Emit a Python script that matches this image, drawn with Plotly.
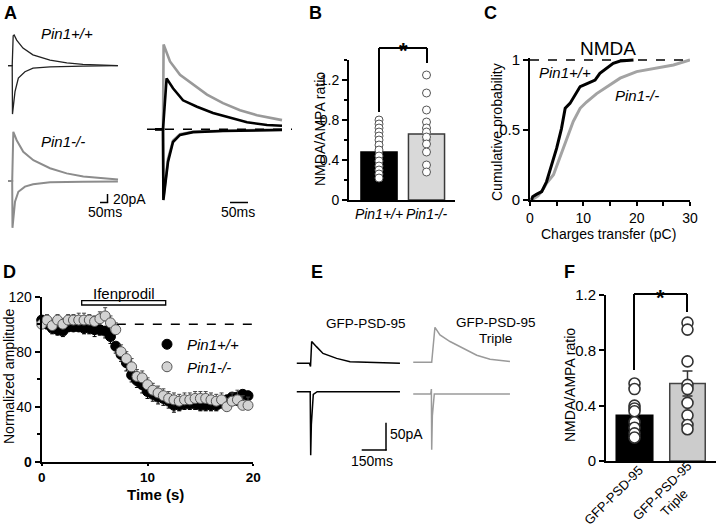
import plotly.graph_objects as go

W, H = 720, 528
FONT = "Liberation Sans, Arial, Helvetica, sans-serif"

# ---------------- data ----------------
# Panel A (left): example traces, time (ms) / current (pA)
A_wt_nmda_t = [-30, 0, 7, 14, 32, 77, 148, 270, 390, 505, 755]
A_wt_nmda_i = [0, 0, 75, 77, 64, 44, 27, 14, 7, 3.5, 0]
A_wt_ampa_t = [-30, 0, 2, 20, 44, 91, 149, 270, 505, 755]
A_wt_ampa_i = [0, 0, -121, -65, -31, -15, -6, -3, -1, 0]
A_ko_nmda_t = [-30, 0, 8, 32, 79, 151, 270, 389, 508, 627, 756]
A_ko_nmda_i = [0, 0, 123, 102, 73, 52, 32, 19, 11, 7, 4]
A_ko_ampa_t = [-30, 0, 2, 20, 44, 91, 149, 270, 505, 755]
A_ko_ampa_i = [0, 0, -117, -52, -27, -14, -8, -3, -2, -1]

# Panel A (right): normalized superimposed traces
AR_ko_nmda_t = [-20, 0, 1.5, 17.5, 42.5, 75, 110, 150, 192.5, 235, 297.5]
AR_ko_nmda_v = [0, 0, 1.20, 0.96, 0.77, 0.63, 0.49, 0.37, 0.27, 0.20, 0.13]
AR_wt_nmda_t = [-20, 0, 9, 25, 50, 85, 125, 167.5, 210, 260, 297.5]
AR_wt_nmda_v = [0, 0, 0.72, 0.58, 0.41, 0.32, 0.23, 0.16, 0.10, 0.06, 0.05]
AR_ampa_t = [-20, 0, 1, 12.5, 25, 42.5, 75, 150, 297.5]
AR_wt_ampa_v = [0, 0, -1.0, -0.46, -0.18, -0.08, -0.04, -0.025, -0.01]
AR_ko_ampa_v = [0, 0, -0.97, -0.42, -0.16, -0.07, -0.035, -0.02, -0.005]

# Panel B
B_cats = ["Pin1+/+", "Pin1-/-"]
B_means = [0.48, 0.66]
B_sem = [0.04, 0.06]
B_wt_pts = [0.80, 0.76, 0.72, 0.68, 0.64, 0.60, 0.55, 0.50, 0.44, 0.39, 0.34, 0.30, 0.26, 0.22]
B_ko_pts = [1.25, 1.07, 0.90, 0.78, 0.72, 0.68, 0.63, 0.56, 0.48, 0.35, 0.28]

# Panel C: cumulative distributions of NMDA charge transfer
C_wt_x = [0.3, 0.5, 1.2, 2.2, 3.1, 4.1, 5.0, 5.9, 6.6, 7.5, 8.4, 9.4, 10.6, 12.2, 13.1, 14.4, 15.6, 16.9, 19.4]
C_wt_y = [0.0, 0.024, 0.04, 0.06, 0.13, 0.25, 0.37, 0.51, 0.655, 0.69, 0.75, 0.81, 0.83, 0.857, 0.905, 0.94, 0.976, 0.993, 1.0]
C_ko_x = [0.3, 1.5, 2.5, 3.1, 4.4, 5.6, 6.9, 8.1, 9.4, 10.6, 12.5, 15.0, 16.9, 20.0, 22.0, 24.4, 26.9, 30.0]
C_ko_y = [0.0, 0.03, 0.08, 0.12, 0.18, 0.30, 0.44, 0.56, 0.655, 0.70, 0.76, 0.82, 0.87, 0.917, 0.93, 0.95, 0.964, 1.0]

# Panel D: ifenprodil time course
D_t = [0.0, 0.5, 1.0, 1.5, 2.0, 2.5, 3.0, 3.5, 4.0, 4.5, 5.0, 5.5, 6.0, 6.5, 7.0, 7.5, 8.0, 8.5, 9.0, 9.5,
       10.0, 10.5, 11.0, 11.5, 12.0, 12.5, 13.0, 13.5, 14.0, 14.5, 15.0, 15.5, 16.0, 16.5, 17.0, 17.5, 18.0, 18.5, 19.0, 19.5]
D_wt = [103, 100, 97, 96, 95, 98, 98, 98, 97, 97, 96, 96, 95, 91, 84, 78, 72, 63, 59, 56,
        51, 49, 47, 46, 44, 41, 41, 42, 42, 42, 41, 41, 41, 41, 43, 45, 47, 47, 49, 48]
D_wt_err = [3, 3, 4, 4, 4, 3, 3, 3, 4, 4, 5, 4, 5, 5, 5, 5, 6, 5, 5, 6,
            5, 5, 5, 5, 5, 5, 4, 4, 4, 4, 4, 4, 4, 4, 4, 5, 5, 6, 6, 6]
D_ko = [100, 103, 99, 103, 100, 103, 103, 103, 103, 103, 102, 104, 106, 101, 96, 80, 75, 69, 62, 61,
        56, 52, 50, 48, 46, 45, 44, 45, 45, 46, 46, 46, 45, 44, 45, 40, 44, 45, 41, 41]
D_ko_err = [4, 4, 4, 4, 4, 4, 4, 5, 5, 4, 4, 5, 6, 5, 5, 5, 5, 6, 5, 5,
            5, 5, 5, 5, 5, 5, 5, 5, 5, 5, 5, 5, 5, 5, 5, 6, 6, 7, 7, 6]
D_names = ["Pin1+/+", "Pin1-/-"]

# Panel E: example traces, time (ms) / current (pA)
E_ctl_nmda_t = [-86, -8, -1, 6, 37, 76, 160, 243, 551]
E_ctl_nmda_i = [0, 0, -6, 40, 30, 18, 9, 3, 0]
E_ctl_ampa_t = [-86, -3, 0, 4, 16, 40, 551]
E_ctl_ampa_i = [0, 0, -116, -60, -5, 0, 0]
E_tri_nmda_t = [-114, -3, 0, 20, 51, 113, 195, 278, 360, 483]
E_tri_nmda_i = [0, 0, 0, 64, 50, 38, 26, 13, 5.5, 1.5]
E_tri_ampa_t = [-114, -6, -2, 0, 4, 16, 483]
E_tri_ampa_i = [0, 0, 9, -102, -40, 0, 0]

# Panel F
F_cats = ["GFP-PSD-95", "GFP-PSD-95 Triple"]
F_ticktext = ["GFP-PSD-95", "GFP-PSD-95<br>Triple"]
F_means = [0.33, 0.56]
F_sem = [0.03, 0.09]
F_ctl_pts = [0.56, 0.52, 0.40, 0.38, 0.36, 0.28, 0.24, 0.20, 0.17]
F_tri_pts = [1.0, 0.95, 0.72, 0.55, 0.52, 0.42, 0.33, 0.26, 0.23]

# ---------------- helpers ----------------
fig = go.Figure()
axes = {}


def ids(n):
    return ("x" if n == 1 else f"x{n}", "y" if n == 1 else f"y{n}")


def add_axes(n, xpx, xr, ypx, yr, xo=None, yo=None, visible=False):
    xa, ya = ids(n)
    xk = "xaxis" if n == 1 else f"xaxis{n}"
    yk = "yaxis" if n == 1 else f"yaxis{n}"
    x = dict(domain=[xpx[0] / W, xpx[1] / W], range=xr, anchor=ya, visible=visible,
             showgrid=False, zeroline=False, fixedrange=True, automargin=False)
    y = dict(domain=[1 - ypx[1] / H, 1 - ypx[0] / H], range=yr, anchor=xa, visible=visible,
             showgrid=False, zeroline=False, fixedrange=True, automargin=False)
    if xo:
        x.update(xo)
    if yo:
        y.update(yo)
    axes[xk] = x
    axes[yk] = y


def line(n, x, y, color, width):
    xa, ya = ids(n)
    fig.add_trace(go.Scatter(x=x, y=y, mode="lines", line=dict(color=color, width=width),
                             xaxis=xa, yaxis=ya, showlegend=False, hoverinfo="skip"))


annotations = []
shapes = []


def text(s, px, py, size=14, angle=0, xanchor="center", yanchor="middle"):
    annotations.append(dict(text=s, x=px / W, y=1 - py / H, xref="paper", yref="paper",
                            showarrow=False, textangle=angle, xanchor=xanchor, yanchor=yanchor,
                            font=dict(size=size, family=FONT, color="black")))


def pline(x0, y0, x1, y1, width=1.5, color="black", dash=None):
    d = dict(type="line", xref="paper", yref="paper", x0=x0 / W, y0=1 - y0 / H,
             x1=x1 / W, y1=1 - y1 / H, line=dict(color=color, width=width))
    if dash:
        d["line"]["dash"] = dash
    shapes.append(d)


AXV = dict(visible=True, showline=True, linecolor="black", linewidth=2, ticks="outside",
           tickcolor="black", tickwidth=1.5, ticklen=5,
           tickfont=dict(size=14, color="black", family=FONT))

GREY = "#8c8c8c"

# ---------------- Panel A ----------------
tA = lambda px: (px - 12.2) / 0.14
yA1 = lambda py: (65.7 - py) / 0.4
yA2 = lambda py: (181 - py) / 0.4
add_axes(1, (6, 122), [tA(6), tA(122)], (28, 122), [yA1(122), yA1(28)])
add_axes(2, (6, 122), [tA(6), tA(122)], (124, 235), [yA2(235), yA2(124)])
line(1, A_wt_ampa_t, A_wt_ampa_i, "#222", 1.3)
line(1, A_wt_nmda_t, A_wt_nmda_i, "#222", 1.3)
line(2, A_ko_ampa_t, A_ko_ampa_i, GREY, 2)
line(2, A_ko_nmda_t, A_ko_nmda_i, GREY, 2)

tR = lambda px: (px - 163) / 0.4
vR = lambda py: (129.3 - py) / 70.7
add_axes(3, (145, 295), [tR(145), tR(295)], (38, 205), [vR(205), vR(38)])
line(3, AR_ampa_t, AR_ko_ampa_v, "#999999", 2.6)
line(3, AR_ko_nmda_t, AR_ko_nmda_v, "#999999", 2.6)
line(3, AR_ampa_t, AR_wt_ampa_v, "black", 2.6)
line(3, AR_wt_nmda_t, AR_wt_nmda_v, "black", 2.6)
shapes.append(dict(type="line", xref="x3", yref="y3", x0=tR(147), x1=tR(292), y0=0, y1=0,
                   line=dict(color="black", width=1.5, dash="dash")))

text("<i>Pin1+/+</i>", 67, 33, 15)
text("<i>Pin1-/-</i>", 63, 141, 15)
pline(107.5, 194, 107.5, 202.5)
pline(100, 202.5, 108.2, 202.5)
text("20pA", 111, 198.5, 14, xanchor="left")
text("50ms", 104.5, 212, 14)
pline(230, 202.5, 248, 202.5)
text("50ms", 237.5, 212, 14)

# ---------------- Panel B ----------------
add_axes(4, (349, 455), [-0.632, 1.6], (60, 200), [0, 1.4],
         xo=dict(AXV, type="category", ticks="", tickvals=B_cats,
                 ticktext=[f"<i>{c}</i>" for c in B_cats]),
         yo=dict(AXV, tickvals=[0, 0.4, 0.8, 1.2], ticktext=["0", "0.4", "0.8", "1.2"],
                 minor=dict(tickvals=[0.2, 0.6, 1.0, 1.4], ticks="outside", ticklen=3,
                            tickcolor="black", tickwidth=1.5)))
fig.add_trace(go.Bar(x=[B_cats[0]], y=[B_means[0]], width=0.76, xaxis="x4", yaxis="y4",
                     marker=dict(color="black", line=dict(color="black", width=1.5)),
                     error_y=dict(type="data", array=[B_sem[0]], color="#888", thickness=1.5, width=4),
                     showlegend=False, hoverinfo="skip"))
fig.add_trace(go.Bar(x=[B_cats[1]], y=[B_means[1]], width=0.76, xaxis="x4", yaxis="y4",
                     marker=dict(color="#d9d9d9", line=dict(color="#3a3a3a", width=1.5)),
                     error_y=dict(type="data", array=[B_sem[1]], color="#444", thickness=1.5, width=4),
                     showlegend=False, hoverinfo="skip"))
for cat, pts in zip(B_cats, [B_wt_pts, B_ko_pts]):
    fig.add_trace(go.Scatter(x=[cat] * len(pts), y=pts, mode="markers", xaxis="x4", yaxis="y4",
                             marker=dict(color="white", size=8, line=dict(color="#555", width=1)),
                             cliponaxis=False, showlegend=False, hoverinfo="skip"))
pline(379, 112, 379, 48, 2)
pline(379, 48, 427, 48, 2)
pline(427, 48, 427, 63, 2)
text("<b>*</b>", 403, 50, 22)
text("NMDA/AMPA ratio", 320, 129, 14, angle=-90)

# ---------------- Panel C ----------------
add_axes(5, (530, 690), [0, 30], (58, 200), [0, 1.0143],
         xo=dict(AXV, tickvals=[0, 10, 20, 30], ticklen=4,
                 minor=dict(tickvals=[5, 15, 25], ticks="outside", ticklen=4,
                            tickcolor="black", tickwidth=1.5)),
         yo=dict(AXV, tickvals=[0, 0.5, 1], ticktext=["0", "0.5", "1"],
                 tickfont=dict(size=15, family=FONT, color="black")))
shapes.append(dict(type="line", xref="x5", yref="y5", x0=0, x1=30, y0=1, y1=1,
                   line=dict(color="black", width=1.5, dash="dash")))
line(5, C_ko_x, C_ko_y, "#a3a3a3", 3)
line(5, C_wt_x, C_wt_y, "black", 3)
text("NMDA", 608, 48, 19)
text("<i>Pin1+/+</i>", 565, 72, 15)
text("<i>Pin1-/-</i>", 637, 95, 15)
text("Cumulative probability", 497, 132, 14, angle=-90)
text("Charges transfer (pC)", 608, 234, 14)

# ---------------- Panel D ----------------
add_axes(6, (41.7, 253.3), [0, 20], (296.7, 461.7), [0, 120],
         xo=dict(AXV, tickvals=[0, 10, 20], ticktext=["<b>0</b>", "<b>10</b>", "<b>20</b>"],
                 ticklen=2, tickfont=dict(size=13.5, family=FONT, color="black")),
         yo=dict(AXV, tickvals=[0, 40, 80, 120], ticktext=["<b>0</b>", "40", "80", "120"],
                 minor=dict(tickvals=[20, 60, 100], ticks="outside", ticklen=3,
                            tickcolor="black", tickwidth=1.5)))
shapes.append(dict(type="line", xref="x6", yref="y6", x0=7.1, x1=20, y0=100, y1=100,
                   line=dict(color="black", width=1.5, dash="dash")))
fig.add_trace(go.Scatter(x=D_t, y=D_wt, mode="markers", name=f"<i>{D_names[0]}</i>",
                         xaxis="x6", yaxis="y6", cliponaxis=False,
                         marker=dict(color="black", size=10, line=dict(color="black", width=1)),
                         error_y=dict(type="data", symmetric=False, array=[0] * len(D_t),
                                      arrayminus=D_wt_err, color="black", thickness=1, width=2),
                         hoverinfo="skip"))
fig.add_trace(go.Scatter(x=D_t, y=D_ko, mode="markers", name=f"<i>{D_names[1]}</i>",
                         xaxis="x6", yaxis="y6", cliponaxis=False,
                         marker=dict(color="#d3d3d3", size=10, line=dict(color="#555", width=1)),
                         error_y=dict(type="data", symmetric=False, array=D_ko_err,
                                      arrayminus=[0] * len(D_t), color="#444", thickness=1, width=2),
                         hoverinfo="skip"))
shapes.append(dict(type="rect", xref="paper", yref="paper", x0=81.7 / W, x1=165.7 / W,
                   y0=1 - 305 / H, y1=1 - 300.7 / H, line=dict(color="black", width=1.3),
                   fillcolor="white"))
text("Ifenprodil", 123.5, 293, 15)
text("Normalized amplitude", 9, 376, 14, angle=-90)
text("<b>Time (s)</b>", 155, 494, 15)

# ---------------- Panel E ----------------
tE1 = lambda px: (px - 310.7) / 0.162
yE1 = lambda py: (363.3 - py) / 0.547
yE2 = lambda py: (391.7 - py) / 0.547
tE2 = lambda px: (px - 431.7) / 0.162
yE3 = lambda py: (362.3 - py) / 0.547
yE4 = lambda py: (394 - py) / 0.547
add_axes(7, (294, 404), [tE1(294), tE1(404)], (325, 372), [yE1(372), yE1(325)])
add_axes(8, (294, 404), [tE1(294), tE1(404)], (378, 462), [yE2(462), yE2(378)])
add_axes(9, (410, 515), [tE2(410), tE2(515)], (320, 372), [yE3(372), yE3(320)])
add_axes(10, (410, 515), [tE2(410), tE2(515)], (378, 462), [yE4(462), yE4(378)])
line(7, E_ctl_nmda_t, E_ctl_nmda_i, "black", 1.5)
line(8, E_ctl_ampa_t, E_ctl_ampa_i, "black", 1.5)
line(9, E_tri_nmda_t, E_tri_nmda_i, "#9a9a9a", 1.5)
line(10, E_tri_ampa_t, E_tri_ampa_i, "#9a9a9a", 1.5)
text("GFP-PSD-95", 366, 323, 13.5)
text("GFP-PSD-95", 496, 322, 13.5)
text("Triple", 495, 338, 13.5)
pline(386, 422.7, 386, 450.5)
pline(361.7, 450, 386.7, 450)
text("50pA", 388, 434, 14, xanchor="left")
text("150ms", 372, 461, 14)

# ---------------- Panel F ----------------
add_axes(11, (606, 716), [-0.538, 1.538], (295, 461), [0, 1.2],
         xo=dict(AXV, type="category", ticks="", tickvals=F_cats, ticktext=F_ticktext,
                 showticklabels=False),
         yo=dict(AXV, tickvals=[0, 0.4, 0.8, 1.2], ticktext=["0", "0.4", "0.8", "1.2"],
                 tickfont=dict(size=15, family=FONT, color="black")))
fig.add_trace(go.Bar(x=[F_cats[0]], y=[F_means[0]], width=0.69, xaxis="x11", yaxis="y11",
                     marker=dict(color="black", line=dict(color="black", width=1.5)),
                     error_y=dict(type="data", array=[F_sem[0]], color="#888", thickness=1.5, width=5),
                     showlegend=False, hoverinfo="skip"))
fig.add_trace(go.Bar(x=[F_cats[1]], y=[F_means[1]], width=0.67, xaxis="x11", yaxis="y11",
                     marker=dict(color="#cccccc", line=dict(color="#444", width=1.5)),
                     error_y=dict(type="data", array=[F_sem[1]], color="#333", thickness=1.5, width=5),
                     showlegend=False, hoverinfo="skip"))
for cat, pts in zip(F_cats, [F_ctl_pts, F_tri_pts]):
    fig.add_trace(go.Scatter(x=[cat] * len(pts), y=pts, mode="markers", xaxis="x11", yaxis="y11",
                             marker=dict(color="white", size=11, line=dict(color="#333", width=1.6)),
                             cliponaxis=False, showlegend=False, hoverinfo="skip"))
# rotated category labels
text(F_ticktext[0], 613, 495, 13, angle=-45)
text(F_ticktext[1], 668, 497, 13, angle=-45)
pline(634, 370, 634, 294, 2)
pline(634, 294, 687, 294, 2)
pline(687, 294, 687, 312, 2)
text("<b>*</b>", 660, 297, 22)
text("NMDA/AMPA ratio", 570, 385, 14, angle=-90)

# ---------------- panel letters ----------------
for lab, px, py in [("A", 10, 13), ("B", 315, 13), ("C", 490, 13),
                    ("D", 9, 272), ("E", 316.5, 272), ("F", 569, 272)]:
    text(f"<b>{lab}</b>", px, py, 18)

fig.update_layout(
    width=W, height=H, autosize=False,
    margin=dict(l=0, r=0, t=0, b=0, pad=0, autoexpand=False),
    paper_bgcolor="white", plot_bgcolor="rgba(0,0,0,0)", barmode="overlay",
    font=dict(family=FONT, size=14, color="black"),
    showlegend=True,
    legend=dict(x=147 / W, y=1 - 328 / H, xanchor="left", yanchor="top",
                bgcolor="rgba(0,0,0,0)", font=dict(size=15, family=FONT, color="black"),
                tracegroupgap=0),
    annotations=annotations, shapes=shapes,
    **axes,
)

fig.write_html("out.html", config={"displayModeBar": False},
               post_script="document.body.style.margin='0px';document.body.style.overflow='hidden';")
